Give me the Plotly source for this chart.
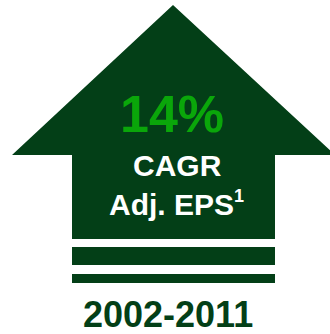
import plotly.graph_objects as go

# Headline figures for the growth infographic
growth_value = ["14%"]
metric_labels = ["CAGR", "Adj. EPS"]
footnote_mark = ["1"]
period_label = ["2002-2011"]

DARK_GREEN = "#033f17"
BRIGHT_GREEN = "#0aa60a"
FONT = "Arial, Liberation Sans, sans-serif"

W, H = 330, 334

fig = go.Figure()

# Up arrow: triangular head over a rectangular shaft
arrow_path = (
    "M 173 5 L 335 155 L 275 155 L 275 239 "
    "L 72 239 L 72 155 L 12 155 Z"
)
shapes = [
    dict(type="path", path=arrow_path, fillcolor=DARK_GREEN,
         line=dict(width=0), layer="below"),
    dict(type="rect", x0=72, x1=275, y0=247, y1=265,
         fillcolor=DARK_GREEN, line=dict(width=0), layer="below"),
    dict(type="rect", x0=72, x1=275, y0=274, y1=283,
         fillcolor=DARK_GREEN, line=dict(width=0), layer="below"),
]

eps_text = (f"<b>{metric_labels[1]}"
            f"<sup><span style='font-size:18px'>{footnote_mark[0]}</span></sup></b>")

annotations = [
    dict(x=172, y=114, text=f"<b>{growth_value[0]}</b>",
         font=dict(family=FONT, size=52, color=BRIGHT_GREEN)),
    dict(x=177, y=165, text=f"<b>{metric_labels[0]}</b>",
         font=dict(family=FONT, size=30, color="white")),
    dict(x=176, y=203, text=eps_text,
         font=dict(family=FONT, size=30, color="white")),
    dict(x=168, y=314, text=f"<b>{period_label[0]}</b>",
         font=dict(family=FONT, size=36, color=DARK_GREEN)),
]
for a in annotations:
    a.update(xref="x", yref="y", showarrow=False,
             xanchor="center", yanchor="middle")

fig.update_layout(
    width=W, height=H,
    margin=dict(l=0, r=0, t=0, b=0),
    paper_bgcolor="white", plot_bgcolor="white",
    xaxis=dict(range=[0, W], visible=False, fixedrange=True),
    yaxis=dict(range=[H, 0], visible=False, fixedrange=True),
    shapes=shapes,
    annotations=annotations,
    showlegend=False,
)

fig.write_html("out.html", config={"displayModeBar": False})
